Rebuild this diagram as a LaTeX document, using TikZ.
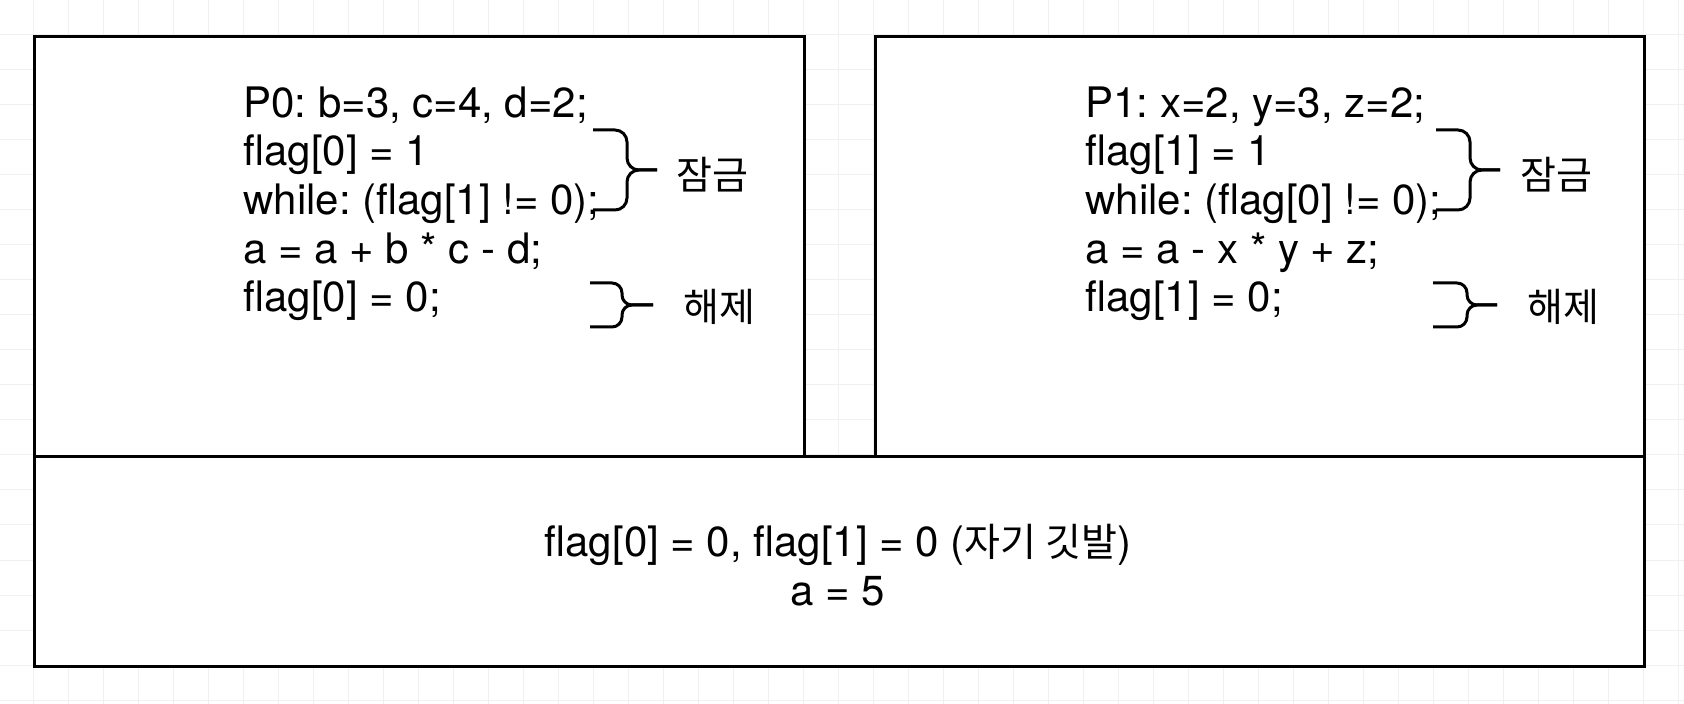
\documentclass[tikz,border=0pt]{standalone}
\usepackage{fontspec}
\setmainfont{TeX Gyre Heros}
\newfontfamily\krfont{Noto Sans CJK KR}[Scale=0.93]
\frenchspacing
\usetikzlibrary{positioning}
\tikzset{panel/.style={draw,fill=white,line width=1.5pt,inner sep=0pt,anchor=north west},
         code text/.style={align=left,inner sep=0pt,anchor=base west,font=\fontsize{21pt}{24.35pt}\selectfont},
         brace line/.style={line width=1.5pt,rounded corners=6pt},
         brace label/.style={inner sep=0pt,font=\fontsize{21pt}{24pt}\selectfont\krfont},
         grid line/.style={draw=black!6,line width=0.5pt},
            }

\begin{document}
\begin{tikzpicture}[x=0.5pt,y=-0.5pt]

    \useasboundingbox (0,0) rectangle (1684,704);
    \fill[white] (0,0) rectangle (1684,704);
    \foreach \x in {33,68,...,1684} \draw[grid line] (\x,0) -- (\x,704);
    \foreach \y in {0,35,...,704} \draw[grid line] (0,\y) -- (1684,\y);

    \node[panel,minimum width=805pt,minimum height=105pt] (shared) at (33,455) {};
    \node[panel,minimum width=385pt,minimum height=210pt] (box0) at (33,35) {};
    \node[panel,minimum width=384.5pt,minimum height=210pt] (box1) at (874,35) {};

    % P0
    \node[code text] (code0) at (243,312) {P0: b=3, c=4, d=2;\\flag[0] = 1\\while: (flag[1] != 0);\\a = a + b * c - d;\\flag[0] = 0;};
    \draw[brace line] (593,130) -- (627,130) -- (627,170) -- (657,170);
    \draw[brace line] (593,210) -- (627,210) -- (627,170) -- (657,170);
    \draw[brace line,rounded corners=5pt] (590,283) -- (622,283) -- (622,305) -- (653,305);
    \draw[brace line,rounded corners=5pt] (590,327) -- (622,327) -- (622,305) -- (653,305);
    \coordinate (lock0) at (657,170);
    \coordinate (unlock0) at (653,305);
    \node[brace label,right=9.5pt of lock0,yshift=-2.5pt] (lock0 label) {잠금};
    \node[brace label,right=15pt of unlock0,yshift=-1pt] (unlock0 label) {해제};

    % P1
    \begin{scope}[shift={(842,0)}]
    \node[code text] (code1) at (243,312) {P1: x=2, y=3, z=2;\\flag[1] = 1\\while: (flag[0] != 0);\\a = a - x * y + z;\\flag[1] = 0;};
    \draw[brace line] (594,130) -- (628,130) -- (628,170) -- (658,170);
    \draw[brace line] (594,210) -- (628,210) -- (628,170) -- (658,170);
    \draw[brace line,rounded corners=5pt] (591,283) -- (625,283) -- (625,305) -- (655,305);
    \draw[brace line,rounded corners=5pt] (591,327) -- (625,327) -- (625,305) -- (655,305);
    \coordinate (lock1) at (658,170);
    \coordinate (unlock1) at (655,305);
    \node[brace label,right=10pt of lock1,yshift=-2.5pt] (lock1 label) {잠금};
    \node[brace label,right=15pt of unlock1,yshift=-1pt] (unlock1 label) {해제};
    \end{scope}

    % shared result
    \node[code text,align=center,anchor=center] (result) at (838,565) {flag[0] = 0, flag[1] = 0 ({\krfont 자기 깃발})\\a = 5};

\end{tikzpicture}
\end{document}
